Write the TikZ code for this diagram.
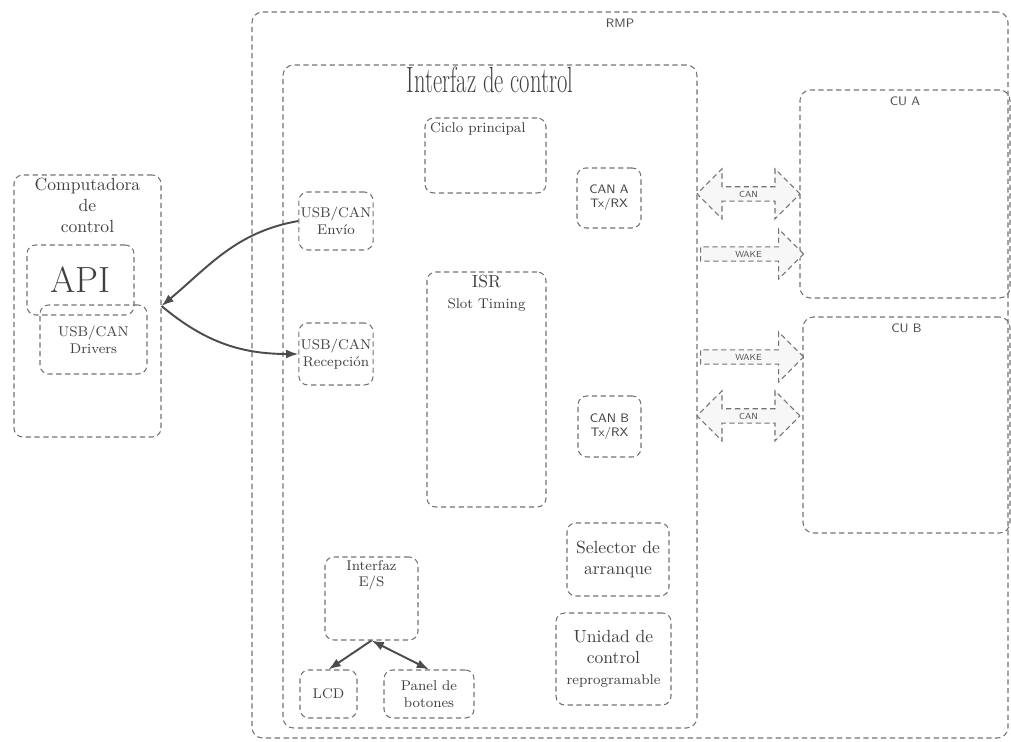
\documentclass[tikz,border=0pt]{standalone}
\usepackage{tikz}
\usetikzlibrary{arrows.meta,shapes.arrows}

\begin{document}
\begin{tikzpicture}[
    box/.style={draw=black!55, dash pattern=on 3pt off 2pt, rounded corners=5pt, line width=0.6pt, align=center, text=black!75, font=\footnotesize, inner sep=1pt},
    title/.style={anchor=north, align=center, text=black!75, inner sep=2pt},
    sflab/.style={font=\sffamily\scriptsize, text=black!70},
    bus/.style={draw=black!55, dash pattern=on 3pt off 2pt, line width=0.6pt, fill=black!3, font=\sffamily\tiny, text=black!70, inner sep=1.5pt, minimum height=2.06cm, minimum width=1.0cm},
    link/.style={-{Latex[length=7pt,width=5pt]}, line width=1.1pt, black!70},
    biglink/.style={{Latex[length=7pt,width=5pt]}-{Latex[length=7pt,width=5pt]}, line width=1.1pt, black!70}
  ]
    \useasboundingbox (0,0) rectangle (20.22,14.84);

    \node[box, rounded corners=6pt, minimum width=15.12cm, minimum height=14.52cm, label={[sflab, anchor=north, xshift=-0.2cm, yshift=-1pt]north:RMP}] (rmp) at (12.6,7.34) {};
    \node[box, rounded corners=6pt, minimum width=8.28cm, minimum height=13.26cm, label={[title, inner sep=1pt]north:\scalebox{0.62}[1]{\huge Interfaz de control}}] (ctrl) at (9.8,6.91) {};

    \node[box, minimum width=2.94cm, minimum height=5.24cm, label={[title, font=\normalsize]north:Computadora\\de\\control}] (comp) at (1.75,8.72) {};
    \node[box, font=\huge, minimum width=2.14cm, minimum height=1.4cm] (api) at (1.61,9.24) {API};
    \node[box, minimum width=2.14cm, minimum height=1.38cm] (drv) at (1.87,8.05) {USB/CAN\\Drivers};

    \node[box, minimum width=1.32cm, minimum height=1.16cm] (envio) at (6.72,10.42) {USB/CAN\\Envío};
    \node[box, minimum width=1.32cm, minimum height=1.24cm] (recep) at (6.72,7.76) {USB/CAN\\Recepción};
    \node[box, minimum width=2.42cm, minimum height=1.5cm, label={[anchor=north west, text=black!75, font=\footnotesize, inner sep=3pt]north west:Ciclo principal}] (ciclo) at (9.71,11.73) {};
    \node[box, minimum width=2.38cm, minimum height=4.7cm, label={[title]north:{\normalsize ISR}\\{\footnotesize Slot Timing}}] (isr) at (9.73,7.05) {};
    \node[box, font=\sffamily\scriptsize, minimum width=1.28cm, minimum height=1.2cm] (cana) at (12.18,10.88) {CAN A\\Tx/RX};
    \node[box, font=\sffamily\scriptsize, minimum width=1.26cm, minimum height=1.22cm] (canb) at (12.19,6.31) {CAN B\\Tx/RX};
    \node[box, font=\normalsize, minimum width=2.04cm, minimum height=1.46cm] (selector) at (12.36,3.65) {Selector de\\arranque};
    \node[box, font=\normalsize, minimum width=2.3cm, minimum height=1.84cm] (unidad) at (12.27,1.66) {Unidad de\\control\\{\footnotesize reprogramable}};
    \node[box, minimum width=1.86cm, minimum height=1.66cm, label={[title, font=\footnotesize]north:Interfaz\\E/S}] (es) at (7.43,2.87) {};
    \node[box, minimum width=1.14cm, minimum height=0.96cm] (lcd) at (6.57,0.96) {LCD};
    \node[box, minimum width=1.8cm, minimum height=0.96cm] (panel) at (8.58,0.96) {Panel de\\botones};

    \node[box, rounded corners=6pt, minimum width=4.2cm, minimum height=4.16cm, label={[sflab, anchor=north, inner sep=4pt]north:CU A}] (cua) at (18.1,10.96) {};
    \node[box, rounded corners=6pt, minimum width=4.14cm, minimum height=4.32cm, label={[sflab, anchor=north, inner sep=4pt]north:CU B}] (cub) at (18.13,6.34) {};

    \node[bus, double arrow, double arrow head extend=0.31cm] (cana bus) at (14.97,10.96) {CAN};
    \node[bus, single arrow, single arrow head extend=0.31cm] (wakea) at (14.97,9.76) {WAKE};
    \node[bus, single arrow, single arrow head extend=0.31cm] (wakeb) at (14.97,7.7) {WAKE};
    \node[bus, double arrow, double arrow head extend=0.31cm] (canb bus) at (14.97,6.52) {CAN};

    \draw[link] (envio.west) to[out=190,in=40] (comp.east);
    \draw[link] (comp.east) to[out=-40,in=180] (recep.west);
    \draw[link] (es.south) -- (lcd.north);
    \draw[biglink] (es.south) -- (panel.north);
  \end{tikzpicture}
\end{document}
